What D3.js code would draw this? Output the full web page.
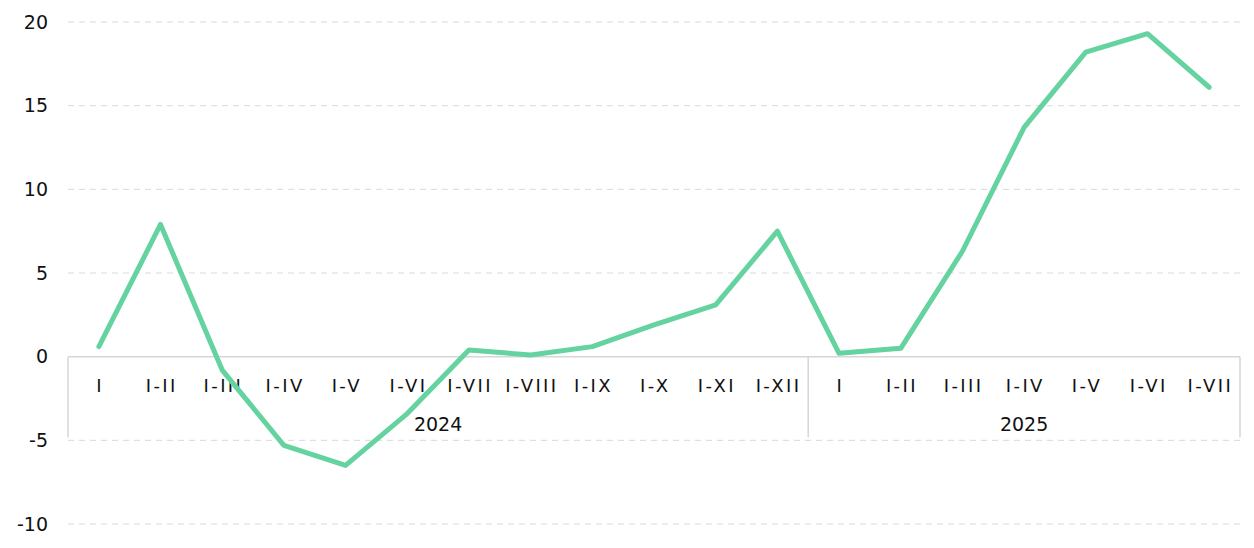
<!DOCTYPE html>
<html>
<head>
<meta charset="utf-8">
<script src="https://cdn.jsdelivr.net/npm/d3@7"></script>
<style>
  body { margin: 0; background: #fff; }
  text { font-family: "DejaVu Sans", Verdana, sans-serif; fill: #111; }
</style>
</head>
<body>
<div id="chart"></div>
<script>
// Data
const years = ["2024", "2025"];
const months2024 = ["I", "I-II", "I-III", "I-IV", "I-V", "I-VI", "I-VII", "I-VIII", "I-IX", "I-X", "I-XI", "I-XII"];
const months2025 = ["I", "I-II", "I-III", "I-IV", "I-V", "I-VI", "I-VII"];
const values2024 = [0.6, 7.9, -0.8, -5.3, -6.5, -3.4, 0.4, 0.1, 0.6, 1.9, 3.1, 7.5];
const values2025 = [0.2, 0.5, 6.3, 13.7, 18.2, 19.3, 16.1];
const yTicks = [-10, -5, 0, 5, 10, 15, 20];

const data = months2024.map((m, i) => ({year: "2024", month: m, value: values2024[i]}))
    .concat(months2025.map((m, i) => ({year: "2025", month: m, value: values2025[i]})));
data.forEach(d => d.key = d.year + "|" + d.month);

const width = 1254, height = 548;
const margin = {top: 22, bottom: 24, left: 68, right: 14};

const svg = d3.select("#chart")
    .append("svg")
    .attr("width", width)
    .attr("height", height);

const xScale = d3.scaleBand()
    .domain(data.map(d => d.key))
    .range([margin.left, width - margin.right]);

const yScale = d3.scaleLinear()
    .domain([-10, 20])
    .range([height - margin.bottom, margin.top]);

// Gridlines
svg.append("g")
    .selectAll("line")
    .data(yTicks.filter(t => t !== 0))
    .enter().append("line")
    .attr("x1", margin.left)
    .attr("x2", width - margin.right)
    .attr("y1", d => yScale(d))
    .attr("y2", d => yScale(d))
    .attr("stroke", "#d9d9d9")
    .attr("stroke-width", 1)
    .attr("stroke-dasharray", "6,5");

// Y axis labels (plain hyphen for negatives, like the original)
const yAxis = svg.append("g")
    .attr("transform", `translate(${margin.left - 20},0)`)
    .call(d3.axisLeft(yScale).tickValues(yTicks).tickFormat(d => String(d)).tickSize(0).tickPadding(0));
yAxis.select(".domain").remove();
yAxis.selectAll("text")
    .style("font-size", "19px")
    .style("font-family", "DejaVu Sans, Verdana, sans-serif")
    .attr("fill", "#111");

// Category axis box
const y0 = yScale(0);
const boxBottom = yScale(-5) - 3;
svg.append("line")
    .attr("x1", margin.left).attr("x2", width - margin.right)
    .attr("y1", y0).attr("y2", y0)
    .attr("stroke", "#d6d6d6").attr("stroke-width", 1.5);

const groupEdges = [margin.left];
years.forEach(yr => {
    const keys = data.filter(d => d.year === yr).map(d => d.key);
    groupEdges.push(xScale(keys[keys.length - 1]) + xScale.bandwidth());
});
svg.append("g")
    .selectAll("line")
    .data(groupEdges)
    .enter().append("line")
    .attr("x1", d => d).attr("x2", d => d)
    .attr("y1", y0).attr("y2", boxBottom)
    .attr("stroke", "#d6d6d6").attr("stroke-width", 1.5);

// Month labels - letter spacing stands in for the wider serifed "I" of the original font
svg.append("g")
    .selectAll("text")
    .data(data)
    .enter().append("text")
    .attr("x", d => xScale(d.key) + xScale.bandwidth() / 2 + 1.2)
    .attr("y", y0 + 35)
    .style("text-anchor", "middle")
    .style("font-size", "18px")
    .style("letter-spacing", "2.4px")
    .text(d => d.month);

// Year labels
svg.append("g")
    .selectAll("text")
    .data(years)
    .enter().append("text")
    .attr("x", (d, i) => (groupEdges[i] + groupEdges[i + 1]) / 2)
    .attr("y", y0 + 74)
    .style("text-anchor", "middle")
    .style("font-size", "19px")
    .text(d => d);

// Line
const line = d3.line()
    .x(d => xScale(d.key) + xScale.bandwidth() / 2)
    .y(d => yScale(d.value));

svg.append("path")
    .datum(data)
    .attr("d", line)
    .attr("fill", "none")
    .attr("stroke", "#64d39f")
    .attr("stroke-width", 5)
    .attr("stroke-linejoin", "round")
    .attr("stroke-linecap", "round");
</script>
</body>
</html>
